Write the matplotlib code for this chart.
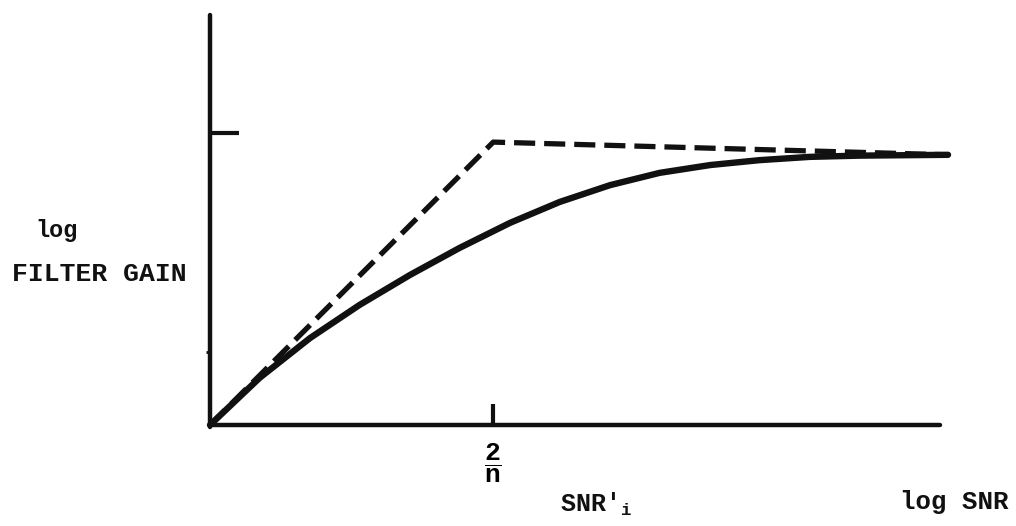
import matplotlib
matplotlib.use("Agg")
import matplotlib.pyplot as plt

# axis units: log SNR (x) and log filter gain (y), arbitrary units 0..10
asym_x = [0.0, 3.88, 10.11]
asym_y = [0.0, 6.90, 6.59]

gain_x = [0.0, 0.68, 1.37, 2.05, 2.74, 3.42, 4.11, 4.79, 5.48, 6.16, 6.85,
          7.53, 8.22, 8.90, 10.11]
gain_y = [0.0, 1.15, 2.12, 2.93, 3.66, 4.32, 4.93, 5.44, 5.85, 6.15, 6.34,
          6.46, 6.54, 6.57, 6.59]

knee_x = 3.88        # 2/n
ytick_major = 7.12
ytick_minor = 1.78

W, H = 1016, 526
FONT = "Liberation Mono"
INK = "#111111"

plt.rcParams.update({
    "font.family": [FONT, "DejaVu Sans"],
    "font.weight": "bold",
    "mathtext.fontset": "custom",
    "mathtext.rm": FONT + ":bold",
    "mathtext.bf": FONT + ":bold",
    "mathtext.it": FONT + ":bold",
})

fig = plt.figure(figsize=(W / 100, H / 100), dpi=100)
fig.patch.set_facecolor("white")
ax = fig.add_axes([0, 0, 1, 1])
ax.set_facecolor("white")
ax.set_xlim(-210 / 73, (W - 210) / 73)
ax.set_ylim((425 - H) / 41, 425 / 41)

ax.plot(asym_x, asym_y, color=INK, lw=3.8, dashes=(4.0, 1.7),
        dash_capstyle="butt", solid_joinstyle="round")
ax.plot(gain_x, gain_y, color=INK, lw=4.6, solid_capstyle="round",
        solid_joinstyle="round")

for side in ("top", "right"):
    ax.spines[side].set_visible(False)
ax.spines["left"].set_position(("data", 0))
ax.spines["bottom"].set_position(("data", 0))
ax.spines["left"].set_bounds(-0.05, 10)
ax.spines["bottom"].set_bounds(0, 10)
for side in ("left", "bottom"):
    ax.spines[side].set_linewidth(3.2)
    ax.spines[side].set_color(INK)
    ax.spines[side].set_capstyle("round")

ax.set_yticks([ytick_major])
ax.set_yticklabels([])
ax.set_yticks([ytick_minor], minor=True)
ax.tick_params(axis="y", which="major", direction="in", length=21, width=3,
               color=INK)
ax.tick_params(axis="y", which="minor", direction="out", length=3, width=2,
               color=INK)

ax.set_xticks([knee_x])
ax.set_xticklabels([r"$\dfrac{2}{n}$"])
ax.tick_params(axis="x", which="major", direction="in", length=15, width=3,
               color=INK, pad=12, labelsize=19)
ax.tick_params(axis="x", which="minor", bottom=False)

fig.text(57 / W, 1 - 231 / H, "log", ha="center", va="center",
         fontsize=17, color=INK)
fig.text(12 / W, 1 - 274 / H, "FILTER GAIN", ha="left", va="center",
         fontsize=19, color=INK)
fig.text(900 / W, 1 - 502 / H, "log SNR", ha="left", va="center",
         fontsize=18.5, color=INK)
fig.text(560 / W, 1 - 504 / H, r"SNR$'_{\mathrm{i}}$", ha="left", va="center",
         fontsize=18, color=INK)

fig.savefig("out.png", dpi=100, facecolor="white")
